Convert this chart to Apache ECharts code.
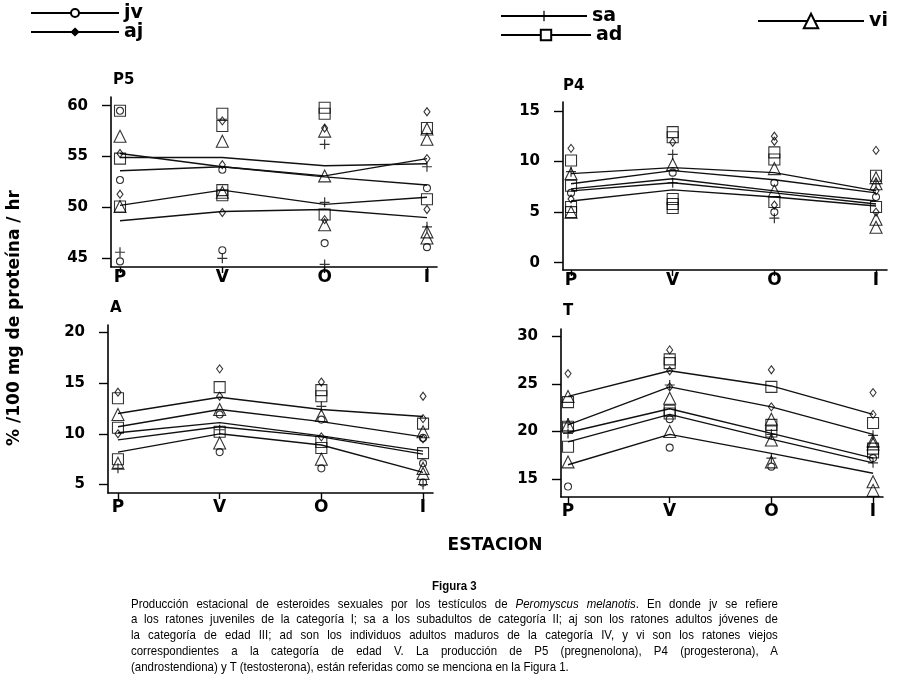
<!DOCTYPE html>
<html><head><meta charset="utf-8">
<script src="https://cdn.jsdelivr.net/npm/echarts@6/dist/echarts.min.js"></script>
<style>
html,body{margin:0;padding:0;background:#fff;}
#chart{position:absolute;left:0;top:0;width:909px;height:689px;}
.cap{position:absolute;left:131px;width:761px;transform:scaleX(0.85);transform-origin:0 0;font-family:'Liberation Sans',Arial,sans-serif;font-size:13.5px;line-height:16px;height:16px;color:#000;white-space:nowrap;}
.cap.j{text-align:justify;text-align-last:justify;white-space:normal;}
.cap.t{text-align:center;font-weight:bold;}
</style></head><body>
<div id="chart"></div>
<div class="cap t" style="top:578px;">Figura 3</div>
<div class="cap j" style="top:596px;">Producción estacional de esteroides sexuales por los testículos de <i>Peromyscus melanotis</i>. En donde jv se refiere</div>
<div class="cap j" style="top:611px;">a los ratones juveniles de la categoría I; sa a los subadultos de categoría II; aj son los ratones adultos jóvenes de</div>
<div class="cap j" style="top:627px;">la categoría de edad III; ad son los individuos adultos maduros de la categoría IV, y vi son los ratones viejos</div>
<div class="cap j" style="top:643px;">correspondientes a la categoría de edad V. La producción de P5 (pregnenolona), P4 (progesterona), A</div>
<div class="cap" style="top:659px;">(androstendiona) y T (testosterona), están referidas como se menciona en la Figura 1.</div>
<script>
// ---------- DATA ----------
const seasons = ['P', 'V', 'O', 'I'];
const groups = ['jv', 'sa', 'aj', 'ad', 'vi'];
const panelNames = ['P5', 'P4', 'A', 'T'];

// y-axis tick labels per panel
const p5Ticks = [45, 50, 55, 60];
const p4Ticks = [0, 5, 10, 15];
const aTicks = [5, 10, 15, 20];
const tTicks = [15, 20, 25, 30];

// trend lines (one row per line, values for P, V, O, I)
const p5Lines = [
  [55.3, 54.0, 53.0, 52.2],
  [54.9, 54.9, 54.1, 54.3],
  [53.6, 54.0, 53.1, 54.8],
  [50.2, 51.7, 50.3, 51.0],
  [48.7, 49.6, 49.8, 49.0]
];
const p4Lines = [
  [8.8, 9.4, 8.9, 7.1],
  [7.8, 9.1, 8.2, 6.9],
  [7.3, 8.3, 7.1, 6.1],
  [7.1, 7.9, 6.9, 5.8],
  [6.1, 7.2, 6.5, 5.6]
];
const aLines = [
  [12.0, 13.6, 12.4, 11.7],
  [10.7, 12.4, 11.2, 9.7],
  [10.1, 11.1, 9.8, 8.3],
  [9.4, 10.7, 9.7, 8.0],
  [8.2, 10.0, 8.9, 6.2]
];
const tLines = [
  [23.7, 26.4, 24.8, 21.8],
  [20.7, 24.7, 22.6, 19.7],
  [19.9, 22.4, 19.8, 17.2],
  [18.9, 21.8, 19.2, 16.7],
  [16.5, 19.7, 17.7, 15.6]
];

// individual points, grouped by season [P, V, O, I]
const p5_jv = [[59.5, 52.7, 44.7], [53.7, 45.8], [46.5], [51.9, 46.1]];
const p5_sa = [[45.6], [45.0], [56.2, 50.5, 44.4], [54.0, 48.1]];
const p5_aj = [[55.3, 51.3], [58.5, 54.2, 49.5], [57.8, 48.8], [59.4, 54.8, 49.8]];
const p5_ad = [[59.5, 54.8, 50.1], [59.2, 58.0, 51.7, 51.2], [59.8, 59.2, 49.3], [57.8, 50.8]];
const p5_vi = [[57.0, 50.1], [56.5, 51.5], [57.5, 53.1, 48.3], [57.7, 56.7, 47.6, 47.0]];

const p4_jv = [[6.9], [8.9], [7.9, 5.0], [6.5]];
const p4_sa = [[9.0], [10.7, 7.9], [4.4], [7.8]];
const p4_aj = [[11.3, 6.3], [11.9], [12.5, 12.0, 5.7], [11.1, 7.1, 5.0]];
const p4_ad = [[10.1, 7.6, 5.5, 5.0], [12.9, 12.4, 6.3, 5.8, 5.4], [10.9, 10.2, 6.0], [8.6, 5.5]];
const p4_vi = [[8.8, 5.0], [9.7], [9.3, 7.1], [8.4, 7.8, 4.3, 3.5]];

const a_jv = [[], [11.9, 8.2], [11.4, 6.6], [9.6, 7.1, 5.2]];
const a_sa = [[6.6], [10.4], [12.7], [5.0]];
const a_aj = [[14.1, 10.0], [16.4, 13.7], [15.1, 9.7], [13.7, 11.5, 9.5]];
const a_ad = [[13.5, 10.6, 7.5], [14.6, 10.2], [14.3, 13.7, 9.2, 8.6], [11.0, 8.1]];
const a_vi = [[11.9, 7.1], [12.4, 9.1], [11.8, 7.5], [10.2, 6.6, 6.1]];

const t_jv = [[14.2], [21.3, 18.3], [16.3], [17.2]];
const t_sa = [[20.9, 19.8], [24.9], [19.7, 17.2], [19.6, 16.7]];
const t_aj = [[26.1], [28.6, 26.4, 24.7], [26.5, 22.6], [24.1, 21.8]];
const t_ad = [[23.1, 20.5, 18.4], [27.6, 27.2, 22.2, 21.9], [24.7, 20.7, 20.0], [20.9, 18.2, 17.8]];
const t_vi = [[23.7, 20.7, 16.8], [23.5, 20.0], [21.3, 19.1, 16.8], [19.0, 18.7, 14.7, 13.8]];

// ---------- LAYOUT / STYLE ----------
const panelLines = [p5Lines, p4Lines, aLines, tLines];
const panelPoints = [
  [p5_jv, p5_sa, p5_aj, p5_ad, p5_vi],
  [p4_jv, p4_sa, p4_aj, p4_ad, p4_vi],
  [a_jv, a_sa, a_aj, a_ad, a_vi],
  [t_jv, t_sa, t_aj, t_ad, t_vi]
];
const panelTicks = [p5Ticks, p4Ticks, aTicks, tTicks];
const grids = [
  {left: 111, top: 97, width: 326, height: 170},
  {left: 563, top: 102, width: 324, height: 168},
  {left: 108, top: 325, width: 325, height: 168},
  {left: 561, top: 329, width: 322, height: 168}
];
const yRange = [[44.15, 60.85], [-0.72, 15.88], [4.17, 20.72], [13.1, 30.8]];
const xRange = [[-0.088, 3.098], [-0.079, 3.108], [-0.098, 3.098], [-0.069, 3.098]];
const xLabelMargin = [2, 2, 6, 6];
const titlePos = [[113, 73], [563, 79], [110, 301], [563, 304]];

const plusPath = 'path://M4.4,0H5.6V4.4H10V5.6H5.6V10H4.4V5.6H0V4.4H4.4Z';
const symbols = {jv: 'circle', sa: plusPath, aj: 'diamond', ad: 'rect', vi: 'triangle'};
const symSizes = {jv: 7, sa: 10, aj: [6, 8], ad: 11, vi: 12};
const hollow = {color: 'rgba(255,255,255,0)', borderColor: '#000', borderWidth: 1.1};
const solid = {color: '#000', borderWidth: 0};
const FONT = 'DejaVu Sans';

const xAxes = [], yAxes = [], series = [];
const seasonIdx = seasons.map((s, i) => i);

grids.forEach((g, p) => {
  xAxes.push({
    type: 'value', gridIndex: p, min: xRange[p][0], max: xRange[p][1],
    axisLine: {show: true, onZero: false, lineStyle: {color: '#000', width: 1.6}},
    axisTick: {show: true, customValues: seasonIdx, length: 6, lineStyle: {color: '#000', width: 1.4}},
    axisLabel: {customValues: seasonIdx, margin: xLabelMargin[p], formatter: v => seasons[Math.round(v)],
      fontFamily: FONT, fontWeight: 'bold', fontSize: 17, color: '#000'},
    splitLine: {show: false}
  });
  yAxes.push({
    type: 'value', gridIndex: p, min: yRange[p][0], max: yRange[p][1],
    axisLine: {show: true, onZero: false, lineStyle: {color: '#000', width: 1.6}},
    axisTick: {show: true, customValues: panelTicks[p], length: 9, lineStyle: {color: '#000', width: 1.4}},
    axisLabel: {customValues: panelTicks[p], margin: 23,
      fontFamily: FONT, fontWeight: 'bold', fontSize: 15, color: '#000'},
    splitLine: {show: false}
  });
  panelLines[p].forEach(row => {
    series.push({
      type: 'line', xAxisIndex: p, yAxisIndex: p, symbol: 'none', silent: true,
      lineStyle: {color: '#111', width: 1.4},
      data: row.map((v, i) => [i, v])
    });
  });
  panelPoints[p].forEach((bySeason, gi) => {
    const gname = groups[gi];
    const pts = [];
    bySeason.forEach((vals, si) => vals.forEach(v => pts.push([si, v])));
    series.push({
      type: 'scatter', xAxisIndex: p, yAxisIndex: p, silent: true,
      symbol: symbols[gname], symbolSize: symSizes[gname],
      itemStyle: gname === 'sa' ? solid : hollow,
      data: pts, z: 3
    });
  });
});

// legend carrier series (no data)
groups.forEach(gname => {
  series.push({
    name: gname, type: 'line', xAxisIndex: 0, yAxisIndex: 0, data: [],
    symbol: symbols[gname], color: '#000',
    lineStyle: {color: '#000', width: 1.5},
    itemStyle: gname === 'sa' ? {color: '#000'} : {color: '#fff', borderColor: '#000', borderWidth: 1.3}
  });
});

const legText = {fontFamily: FONT, fontWeight: 'bold', fontSize: 19, color: '#000', lineHeight: 20};
function leg(name, left, top, w, h, extra) {
  return Object.assign({data: [name], left: left, top: top, padding: 0, itemWidth: w, itemHeight: h,
    selectedMode: false, textStyle: legText, itemGap: 0}, extra || {});
}

const titles = panelNames.map((n, p) => ({
  text: n, left: titlePos[p][0], top: titlePos[p][1], padding: 0,
  textStyle: {fontFamily: FONT, fontWeight: 'bold', fontSize: 15, color: '#000'}
}));

const chart = echarts.init(document.getElementById('chart'));
chart.setOption({
  animation: false,
  backgroundColor: '#fff',
  title: titles,
  legend: [
    leg('jv', 30, 3, 88, 10),
    leg('aj', 30, 22, 88, 8, {itemStyle: {color: '#000'}}),
    leg('sa', 500, 6, 86, 13),
    leg('ad', 500, 25, 90, 13),
    leg('vi', 757, 11, 106, 18)
  ],
  grid: grids,
  xAxis: xAxes,
  yAxis: yAxes,
  series: series,
  graphic: [
    {type: 'text', x: 15, y: 318, rotation: Math.PI / 2,
      style: {text: '% /100 mg de proteína / hr', font: 'bold 17px "DejaVu Sans"', fill: '#000', align: 'center', verticalAlign: 'middle'}},
    {type: 'text', x: 495, y: 546,
      style: {text: 'ESTACION', font: 'bold 17px "DejaVu Sans"', fill: '#000', align: 'center', verticalAlign: 'middle'}}
  ]
});
</script>
</body></html>
